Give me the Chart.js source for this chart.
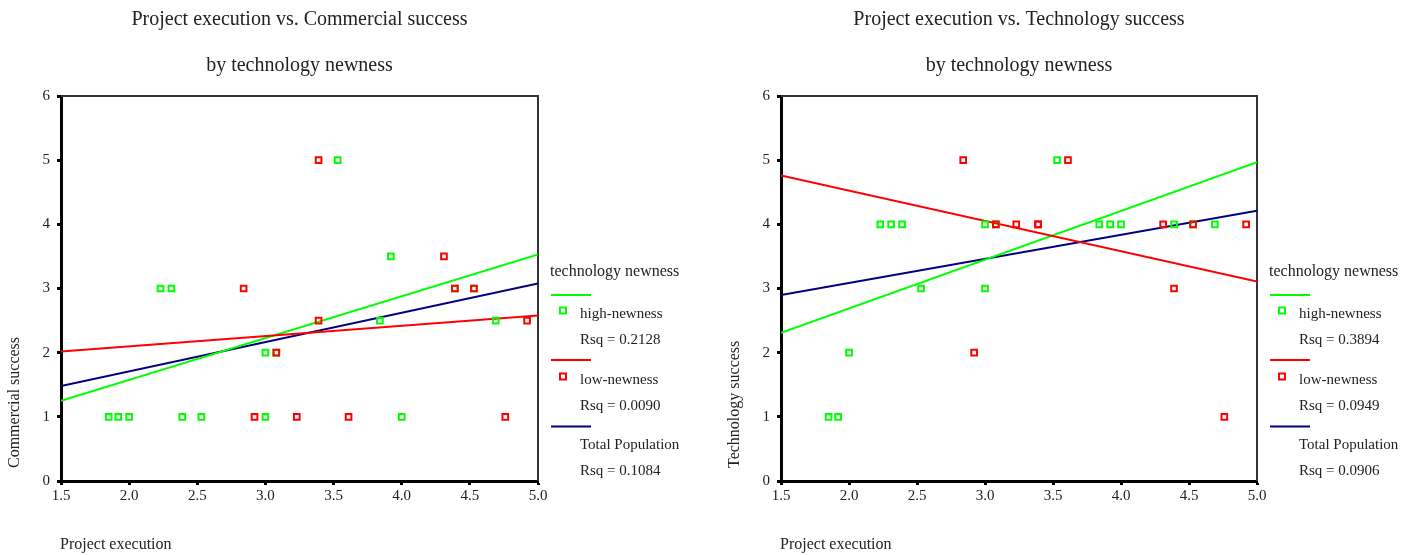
<!DOCTYPE html>
<html>
<head>
<meta charset="utf-8">
<script src="https://cdn.jsdelivr.net/npm/chart.js@4.4.1/dist/chart.umd.min.js"></script>
<style>
  html, body { margin: 0; padding: 0; background: #fff; }
  body { width: 1421px; height: 555px; position: relative; overflow: hidden; }
  .box { position: absolute; top: 0; height: 555px; }
  #boxL { left: 0; width: 710px; }
  #boxR { left: 720px; width: 701px; }
</style>
</head>
<body>
<div class="box" id="boxL"><canvas id="cL" width="710" height="555"></canvas></div>
<div class="box" id="boxR"><canvas id="cR" width="701" height="555"></canvas></div>
<script>
// ---- data ----
const highExec = [1.85, 1.92, 2.00, 2.23, 2.31, 2.39, 2.53, 3.00, 3.00, 3.08, 3.53, 3.84, 3.92, 4.00, 4.39, 4.53, 4.69];
const highComm = [1, 1, 1, 3, 3, 1, 1, 1, 2, 2, 5, 2.5, 3.5, 1, 3, 3, 2.5];
const highTech = [1, 1, 2, 4, 4, 4, 3, 4, 3, 4, 5, 4, 4, 4, 4, 4, 4];

const lowExec = [2.84, 2.92, 3.08, 3.23, 3.39, 3.39, 3.61, 4.31, 4.39, 4.53, 4.76, 4.92];
const lowComm = [3, 1, 2, 1, 2.5, 5, 1, 3.5, 3, 3, 1, 2.5];
const lowTech = [5, 2, 4, 4, 4, 4, 5, 4, 3, 4, 1, 4];

// fitted lines (values at the ends of the x range)
const fitRange = [1.5, 5.0];
const commFitHigh = [1.25, 3.53];
const commFitLow = [2.02, 2.58];
const commFitTotal = [1.48, 3.08];
const techFitHigh = [2.31, 4.97];
const techFitLow = [4.76, 3.11];
const techFitTotal = [2.90, 4.21];

const commRsq = ['0.2128', '0.0090', '0.1084'];
const techRsq = ['0.3894', '0.0949', '0.0906'];
const groupLabels = ['high-newness', 'low-newness', 'Total Population'];
const legendTitle = 'technology newness';

const xTickValues = [1.5, 2.0, 2.5, 3.0, 3.5, 4.0, 4.5, 5.0];
const yTickValues = [0, 1, 2, 3, 4, 5, 6];

const xAxisTitle = 'Project execution';
const titles = {
  comm: ['Project execution vs. Commercial success', 'by technology newness'],
  tech: ['Project execution vs. Technology success', 'by technology newness']
};

// ---- styles ----
const GREEN = '#00ff00';
const RED = '#ff0000';
const NAVY = '#000080';
const SERIF = '"Liberation Serif", "Times New Roman", serif';
const TEXT = '#222';

function pts(xs, ys) { return xs.map((x, i) => ({ x: x, y: ys[i] })); }

const overlay = {
  id: 'overlay',
  beforeDatasetsDraw(chart) {
    const { ctx, chartArea: a } = chart;
    ctx.save();
    ctx.strokeStyle = '#333';
    ctx.lineWidth = 2;
    ctx.beginPath();
    ctx.moveTo(a.left, a.top);
    ctx.lineTo(a.right, a.top);
    ctx.lineTo(a.right, a.bottom);
    ctx.stroke();
    ctx.restore();
  },
  afterDraw(chart) {
    const { ctx, chartArea: a } = chart;
    const o = chart.options.plugins.overlay;
    ctx.save();
    ctx.fillStyle = TEXT;
    // titles
    ctx.textAlign = 'center';
    ctx.textBaseline = 'alphabetic';
    ctx.font = '20px ' + SERIF;
    const cx = (a.left + a.right) / 2;
    ctx.fillText(o.title[0], cx, 25);
    ctx.fillText(o.title[1], cx, 71);
    // x axis title
    ctx.font = '16px ' + SERIF;
    ctx.textAlign = 'left';
    ctx.fillText(xAxisTitle, a.left - 1, 549);
    // y axis title
    ctx.save();
    ctx.translate(a.left - 46, 468);
    ctx.rotate(-Math.PI / 2);
    ctx.textBaseline = 'middle';
    ctx.fillText(o.yTitle, 0, 0);
    ctx.restore();
    // legend
    const x0 = a.right + 12;
    ctx.textBaseline = 'middle';
    ctx.font = '16px ' + SERIF;
    ctx.fillText(legendTitle, x0, 272);
    const colors = [GREEN, RED, NAVY];
    const lineY = [295, 360, 426.5];
    const markY = [310.5, 376.5, null];
    const labY = [314, 380, 445];
    const rsqY = [340, 406, 471];
    ctx.font = '15px ' + SERIF;
    for (let i = 0; i < 3; i++) {
      ctx.strokeStyle = colors[i];
      ctx.lineWidth = 2;
      ctx.beginPath();
      ctx.moveTo(x0 + 1, lineY[i]);
      ctx.lineTo(x0 + 41, lineY[i]);
      ctx.stroke();
      if (markY[i] !== null) {
        ctx.strokeRect(x0 + 10, markY[i] - 3, 6, 6);
      }
      ctx.fillStyle = TEXT;
      ctx.fillText(groupLabels[i], x0 + 30, labY[i]);
      ctx.fillText('Rsq = ' + o.rsq[i], x0 + 30, rsqY[i]);
    }
    ctx.restore();
  }
};

function makeChart(id, yTitle, highY, lowY, fitH, fitL, fitT, rsq, title, rightPad) {
  const lineDs = (vals, color) => ({
    type: 'line',
    data: pts(fitRange, vals),
    borderColor: color,
    borderWidth: 2,
    pointRadius: 0,
    fill: false,
    tension: 0
  });
  const pointDs = (xs, ys, color) => ({
    type: 'scatter',
    data: pts(xs, ys),
    borderColor: color,
    backgroundColor: 'rgba(0,0,0,0)',
    pointStyle: 'rect',
    pointRadius: 4,
    borderWidth: 2,
    showLine: false
  });
  return new Chart(document.getElementById(id), {
    type: 'scatter',
    data: {
      datasets: [
        pointDs(lowExec, lowY, RED),
        pointDs(highExec, highY, GREEN),
        lineDs(fitL, RED),
        lineDs(fitH, GREEN),
        lineDs(fitT, NAVY)
      ]
    },
    options: {
      responsive: false,
      animation: false,
      events: [],
      layout: { padding: { left: 0, top: 96, right: rightPad, bottom: 0 } },
      plugins: {
        legend: { display: false },
        tooltip: { enabled: false },
        overlay: { title: title, yTitle: yTitle, rsq: rsq }
      },
      scales: {
        x: {
          type: 'linear',
          min: 1.5, max: 5.0,
          afterFit: s => { s.height = 74; },
          afterBuildTicks: s => { s.ticks = xTickValues.map(v => ({ value: v })); },
          ticks: {
            callback: v => Number(v).toFixed(1),
            font: { family: SERIF, size: 15 },
            color: TEXT,
            padding: 2,
            maxRotation: 0
          },
          grid: { display: true, drawOnChartArea: false, drawTicks: true, tickLength: 4, tickWidth: 3, tickColor: '#000' },
          border: { display: true, color: '#000', width: 3 }
        },
        y: {
          type: 'linear',
          min: 0, max: 6,
          afterFit: s => { s.width = 61; },
          afterBuildTicks: s => { s.ticks = yTickValues.map(v => ({ value: v })); },
          ticks: {
            callback: v => String(v),
            font: { family: SERIF, size: 15 },
            color: TEXT,
            padding: 7
          },
          grid: { display: true, drawOnChartArea: false, drawTicks: true, tickLength: 4, tickWidth: 3, tickColor: '#000' },
          border: { display: true, color: '#000', width: 3 }
        }
      }
    },
    plugins: [overlay]
  });
}

makeChart('cL', 'Commercial success', highComm, lowComm, commFitHigh, commFitLow, commFitTotal, commRsq, titles.comm, 710 - 538);
makeChart('cR', 'Technology success', highTech, lowTech, techFitHigh, techFitLow, techFitTotal, techRsq, titles.tech, 701 - 537);
</script>
</body>
</html>
